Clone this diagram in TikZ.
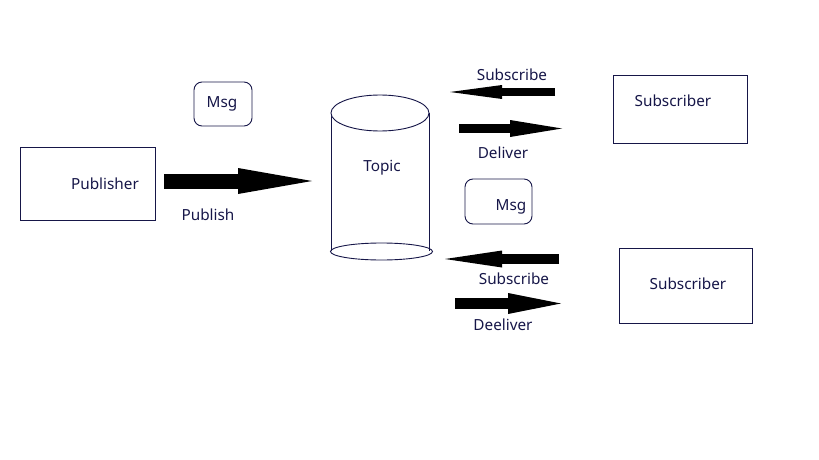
\documentclass[tikz,border=0pt]{standalone}
\usepackage{fontspec}
\setmainfont{Noto Sans}
\usetikzlibrary{arrows.meta}
\definecolor{inkblue}{RGB}{22,22,72}

\begin{document}
\begin{tikzpicture}[
    x=1pt, y=-1pt,
    box/.style={draw=inkblue, line width=0.9pt, minimum width=#1, inner sep=0pt},
    msg/.style={draw=inkblue, line width=0.9pt, rounded corners=8pt, inner sep=0pt},
    txt/.style={text=inkblue, font=\fontsize{15.3}{17}\selectfont, inner sep=0pt},
    fat/.style={line width=#1, draw=black}
]
    \useasboundingbox (0,0) rectangle (819,460);

    % Publisher side
    \node[box=135pt, minimum height=73pt] (pub) at (87.5,183.5) {};
    \node[txt] (pubtxt) at (105,184) {Publisher};
    \node[msg, minimum width=58pt, minimum height=44pt] (msgA) at (223,104) {};
    \node[txt] (msgAtxt) at (222,104) {Msg};
    \coordinate (pubS) at (164,181);
    \coordinate (pubE) at (312,181);
    \draw[fat=15pt, -{Triangle[length=74pt, width=26pt, line width=0pt]}] (pubS) -- (pubE);
    \node[txt] (publish) at (208,215) {Publish};

    % Topic cylinder
    \draw[inkblue, line width=0.9pt] (331,113) -- (331,251);
    \draw[inkblue, line width=0.9pt] (429,113) -- (429,251);
    \draw[inkblue, line width=0.9pt, fill=white] (380,113) ellipse [x radius=49pt, y radius=18pt];
    \draw[inkblue, line width=0.9pt] (381.5,251.5) ellipse [x radius=51pt, y radius=8.5pt];
    \node[txt] (topic) at (382,168) {Topic};

    % Upper subscriber
    \node[box=134pt, minimum height=68pt] (subA) at (680,109) {};
    \node[txt] (subAtxt) at (673,101) {Subscriber};
    \coordinate (subAS) at (555,92);
    \coordinate (subAE) at (450,92);
    \draw[fat=8pt, -{Triangle[length=52pt, width=14pt, line width=0pt]}] (subAS) -- (subAE);
    \node[txt] (subscribeA) at (512,75) {Subscribe};
    \coordinate (delAS) at (459,128.5);
    \coordinate (delAE) at (562,128.5);
    \draw[fat=9pt, -{Triangle[length=52pt, width=17pt, line width=0pt]}] (delAS) -- (delAE);
    \node[txt] (deliverA) at (503,153) {Deliver};

    % Message in between
    \node[msg, minimum width=67pt, minimum height=45pt] (msgB) at (498.5,201.5) {};
    \node[txt] (msgBtxt) at (511,207) {Msg};

    % Lower subscriber
    \node[box=133pt, minimum height=75pt] (subB) at (685.5,285.5) {};
    \node[txt] (subBtxt) at (688,284) {Subscriber};
    \coordinate (subBS) at (559,259);
    \coordinate (subBE) at (445,259);
    \draw[fat=10pt, -{Triangle[length=57pt, width=17pt, line width=0pt]}] (subBS) -- (subBE);
    \node[txt] (subscribeB) at (514,279) {Subscribe};
    \coordinate (delBS) at (455,303.5);
    \coordinate (delBE) at (561,303.5);
    \draw[fat=11pt, -{Triangle[length=53pt, width=21pt, line width=0pt]}] (delBS) -- (delBE);
    \node[txt] (deliverB) at (503,325) {Deeliver};
\end{tikzpicture}
\end{document}
